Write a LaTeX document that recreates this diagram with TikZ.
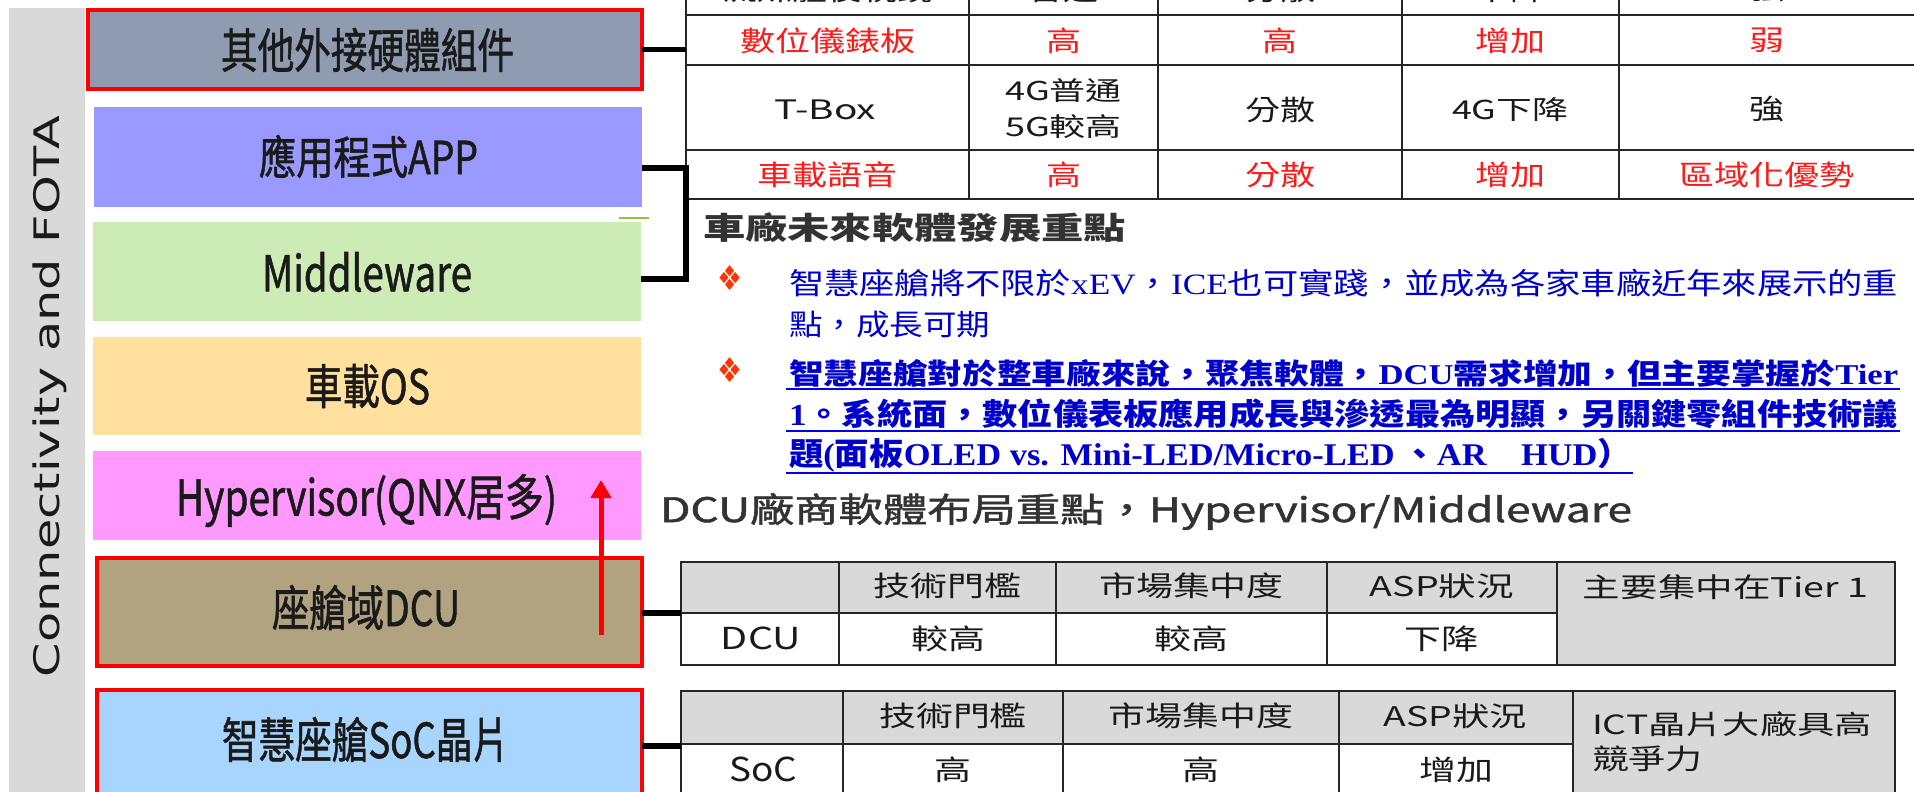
\documentclass[tikz,border=0pt]{standalone}
\usepackage{fontspec}
\usepackage{graphicx}
\usetikzlibrary{arrows.meta}
\setmainfont{Noto Sans CJK TC}
\newfontfamily\medf[FakeBold=1.3]{Noto Sans CJK TC}
\newfontfamily\tabA[FakeStretch=1.25]{Noto Sans CJK TC}
\newfontfamily\tabB[FakeStretch=1.32]{Noto Sans CJK TC}
\newfontfamily\dejavu{DejaVu Sans}
\newfontfamily\ltn{Liberation Serif}
\newcommand{\fitt}[3]{\resizebox*{#1pt}{#2pt}{#3}}
\definecolor{band}{HTML}{D9D9D9}
\definecolor{c1}{HTML}{8E9BB1}
\definecolor{c2}{HTML}{9999FF}
\definecolor{c3}{HTML}{CDEBB5}
\definecolor{c4}{HTML}{FFE09E}
\definecolor{c5}{HTML}{FF99FF}
\definecolor{c6}{HTML}{B1A380}
\definecolor{c7}{HTML}{A8D5FE}
\definecolor{tred}{HTML}{FF1A1A}
\definecolor{tblue}{HTML}{0000CC}
\definecolor{ublue}{HTML}{0000EE}
\definecolor{dgrey}{HTML}{333333}
\definecolor{hgrey}{HTML}{D9D9D9}
\definecolor{tline}{HTML}{262626}
\definecolor{bulletc}{HTML}{FF3300}
\definecolor{stray}{HTML}{8CC63F}
\definecolor{tblack}{HTML}{1A1A1A}
\tikzset{
  lbox/.style={rectangle, inner sep=0pt, outer sep=0pt, draw=none},
  rbox/.style={lbox, draw=red, line width=4pt},
  txt/.style={inner sep=0pt, outer sep=0pt, text=tblack},
  conn/.style={line width=5.5pt, black},
  tl/.style={line width=2.5pt, tline},
  ta/.style={txt, font=\tabA\fontsize{28pt}{30pt}\selectfont},
  tb/.style={txt, font=\tabB\fontsize{28pt}{30pt}\selectfont},
  redt/.style={text=tred},
  uline/.style={line width=2pt, ublue},
  bluet/.style={txt, anchor=west, text=tblue},
  redarrow/.style={line width=5pt, red, -{Triangle[width=20pt,length=18pt]}},
}
\begin{document}
\begin{tikzpicture}[x=1pt,y=-1pt]
\useasboundingbox (0,0) rectangle (1914,792);
\clip (0,0) rectangle (1914,792);
\fill[white] (0,0) rectangle (1914,792);
% side band
\fill[band] (9,8) rectangle (85,792);
\node[txt, rotate=90] (side) at (50,396.5) {\fitt{561}{34}{\dejavu Connectivity and FOTA}};
% layer boxes
\node[rbox, fill=c1, minimum width=554pt, minimum height=79pt] (b1) at (365,49.5) {};
\node[lbox, fill=c2, minimum width=548pt, minimum height=100pt] (b2) at (368,157) {};
\node[lbox, fill=c3, minimum width=548pt, minimum height=99pt] (b3) at (367,271.5) {};
\node[lbox, fill=c4, minimum width=548pt, minimum height=98pt] (b4) at (367,386) {};
\node[lbox, fill=c5, minimum width=548pt, minimum height=89pt] (b5) at (367,495.5) {};
\node[rbox, fill=c6, minimum width=545pt, minimum height=108pt] (b6) at (369.5,612) {};
\node[rbox, fill=c7, minimum width=545pt, minimum height=110pt] (b7) at (369.5,745) {};
\node[txt] (t1) at (367.5,50) {\fitt{293}{44}{\medf 其他外接硬體組件}};
\node[txt] (t2) at (368.5,156.5) {\fitt{219}{43}{\medf 應用程式APP}};
\node[txt] (t3) at (367,272) {\fitt{210}{40}{\medf Middleware}};
\node[txt] (t4) at (367.5,386) {\fitt{125}{44}{\medf 車載OS}};
\node[txt] (t5) at (366.5,500.5) {\fitt{381}{53}{\medf Hypervisor(QNX居多)}};
\node[txt] (t6) at (366,607.5) {\fitt{188}{45}{\medf 座艙域DCU}};
\node[txt] (t7) at (365.5,739.5) {\fitt{287}{45}{\medf 智慧座艙SoC晶片}};
\draw[stray, line width=2pt] (619,218) -- (649,218);
% arrow
\coordinate (arrS) at (601,635);
\coordinate (arrE) at (601,480);
\draw[redarrow] (arrS) -- (arrE);
% top table
\foreach \y in {15,65,150,199} \draw[tl] (686,\y) -- (1914,\y);
\foreach \x in {686,969,1158,1402,1619} \draw[tl] (\x,-5) -- (\x,199);
\node[ta] (r0a) at (827.5,-10.5) {流媒體後視鏡};
\node[ta] (r0b) at (1063.5,-10.5) {普通};
\node[ta] (r0c) at (1280,-10.5) {分散};
\node[ta] (r0d) at (1510.5,-10.5) {下降};
\node[ta] (r0e) at (1766.5,-10.5) {強};
\node[ta, redt] (r1a) at (827.5,40.5) {數位儀錶板};
\node[ta, redt] (r1b) at (1063.5,40.5) {高};
\node[ta, redt] (r1c) at (1280,40.5) {高};
\node[ta, redt] (r1d) at (1510.5,40.5) {增加};
\node[ta, redt] (r1e) at (1766.5,40.5) {弱};
\node[txt] (r2a) at (825.5,110) {\fitt{101}{20}{T-Box}};
\node[txt] (r2b1) at (1063.5,91) {\fitt{117}{24}{4G普通}};
\node[txt] (r2b2) at (1063.5,126.5) {\fitt{117}{24}{5G較高}};
\node[ta] (r2c) at (1280,109.5) {分散};
\node[txt] (r2d) at (1510,109.5) {\fitt{116}{24}{4G下降}};
\node[ta] (r2e) at (1766.5,109.5) {強};
\node[ta, redt] (r3a) at (827.5,175) {車載語音};
\node[ta, redt] (r3b) at (1063.5,175) {高};
\node[ta, redt] (r3c) at (1280,175) {分散};
\node[ta, redt] (r3d) at (1510.5,175) {增加};
\node[ta, redt] (r3e) at (1766.5,175) {區域化優勢};
% connectors from layers
\coordinate (tabL) at (686,49.5);
\draw[conn] (b1.east) -- (tabL);
\coordinate (brT) at (686,168);
\coordinate (brB) at (686,279);
\draw[conn] (b2.east |- brT) -- (brT) -- (brB) -- (b3.east |- brB);
% heading 1 and bullets
\node[txt, text=dgrey] (h1) at (914.5,228) {\fitt{423}{30}{\bfseries 車廠未來軟體發展重點}};
\node[txt, text=bulletc] (bu1) at (729.5,278) {\fitt{25}{25}{\dejavu ❖}};
\node[txt, text=bulletc] (bu2) at (729.5,370) {\fitt{25}{25}{\dejavu ❖}};
\node[bluet] (p1a) at (789,283) {\fitt{1109}{28}{智慧座艙將不限於{\ltn xEV}，{\ltn ICE}也可實踐，並成為各家車廠近年來展示的重}};
\node[bluet] (p1b) at (789,324.5) {\fitt{201}{27}{點，成長可期}};
\node[bluet] (p2a) at (789,373) {\fitt{1109}{28}{\bfseries 智慧座艙對於整車廠來說，聚焦軟體，{\ltn DCU}需求增加，但主要掌握於{\ltn Tier}}};
\node[bluet] (p2b) at (789,414) {\fitt{1109}{30}{\bfseries {\ltn 1}。系統面，數位儀表板應用成長與滲透最為明顯，另關鍵零組件技術議}};
\node[bluet] (p2c) at (789,455) {\fitt{843}{34}{\bfseries 題{\ltn (}面板{\ltn OLED vs. Mini-LED/Micro-LED} 、{\ltn AR}　{\ltn HUD}）}};
\draw[uline] (786,389) -- (1900,389);
\draw[uline] (786,431) -- (1900,431);
\draw[uline] (786,473) -- (1633,473);
% heading 2
\node[txt, text=dgrey] (h2) at (1146,511.5) {\fitt{972}{37}{\medf DCU廠商軟體布局重點，Hypervisor/Middleware}};
% DCU table
\fill[hgrey] (681,562) rectangle (1557,613);
\fill[hgrey] (1557,562) rectangle (1895,665);
\draw[tl] (681,562) rectangle (1895,665);
\draw[tl] (681,613) -- (1557,613);
\foreach \x in {839,1056,1327,1557} \draw[tl] (\x,562) -- (\x,665);
\node[tb] (d1) at (947.5,586) {技術門檻};
\node[tb] (d2) at (1191.5,586) {市場集中度};
\node[txt] (d3) at (1442,586) {\fitt{144}{25}{ASP狀況}};
\node[txt] (d4) at (1725.5,587.5) {\fitt{285}{25}{主要集中在Tier 1}};
\node[txt] (d5) at (761,638.5) {\fitt{80}{23}{DCU}};
\node[tb] (d6) at (948,639) {較高};
\node[tb] (d7) at (1191,639) {較高};
\node[tb] (d8) at (1441,639) {下降};
\coordinate (dcuL) at (681,613);
\draw[conn] (b6.east |- dcuL) -- (dcuL);
% SoC table
\fill[hgrey] (681,691) rectangle (1573,744);
\fill[hgrey] (1573,691) rectangle (1895,800);
\draw[tl] (681,800) -- (681,691) -- (1895,691) -- (1895,800);
\draw[tl] (681,744) -- (1573,744);
\foreach \x in {843,1063,1339,1573} \draw[tl] (\x,691) -- (\x,800);
\node[tb] (s1) at (953,716) {技術門檻};
\node[tb] (s2) at (1201,716) {市場集中度};
\node[txt] (s3) at (1455.5,716) {\fitt{143}{25}{ASP狀況}};
\node[txt, anchor=west] (s4) at (1592,724.5) {\fitt{280}{25}{ICT晶片大廠具高}};
\node[tb, anchor=west] (s5) at (1592,759) {競爭力};
\node[txt] (s6) at (763,769.5) {\fitt{68}{25}{SoC}};
\node[tb] (s7) at (953,770) {高};
\node[tb] (s8) at (1201,770) {高};
\node[tb] (s9) at (1456,770) {增加};
\coordinate (socL) at (681,746);
\draw[conn] (b7.east |- socL) -- (socL);
\end{tikzpicture}
\end{document}
